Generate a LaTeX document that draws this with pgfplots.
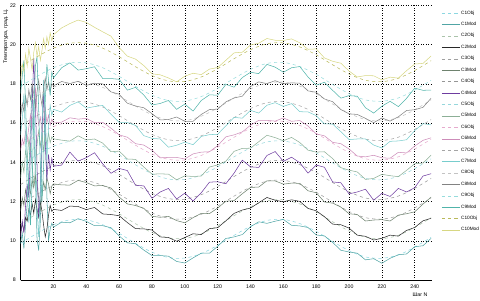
\documentclass[border=0pt]{standalone}
\usepackage{fontspec}
\setmainfont{Liberation Sans}
\usepackage{pgfplots}
\usepackage{pgfplotstable}
\pgfplotsset{compat=1.18}
\definecolor{c1o}{RGB}{140,215,225}
\definecolor{c1m}{RGB}{80,165,165}
\definecolor{c2o}{RGB}{170,195,170}
\definecolor{c2m}{RGB}{40,40,40}
\definecolor{c3o}{RGB}{160,160,160}
\definecolor{c3m}{RGB}{110,130,110}
\definecolor{c4o}{RGB}{150,150,150}
\definecolor{c4m}{RGB}{110,60,160}
\definecolor{c5o}{RGB}{150,215,220}
\definecolor{c5m}{RGB}{140,175,150}
\definecolor{c6o}{RGB}{230,170,205}
\definecolor{c6m}{RGB}{205,140,185}
\definecolor{c7o}{RGB}{165,165,165}
\definecolor{c7m}{RGB}{120,205,205}
\definecolor{c8o}{RGB}{195,195,195}
\definecolor{c8m}{RGB}{130,130,130}
\definecolor{c9o}{RGB}{150,220,220}
\definecolor{c9m}{RGB}{80,180,170}
\definecolor{c10o}{RGB}{185,185,90}
\definecolor{c10m}{RGB}{215,215,130}

\pgfplotstableread{
x o1 o2 o3 o4 o5 o6 o7 o8 o9 o10
0 9.87 10.87 11.87 12.87 13.87 14.87 15.87 16.87 17.87 18.87
10 10.38 11.38 12.38 13.38 14.38 15.38 16.38 17.38 18.38 19.38
20 10.82 11.82 12.82 13.82 14.82 15.82 16.82 17.82 18.82 19.82
30 11.07 12.07 13.07 14.07 15.07 16.07 17.07 18.07 19.07 20.07
40 11.07 12.07 13.07 14.07 15.07 16.07 17.07 18.07 19.07 20.07
50 10.82 11.82 12.82 13.82 14.82 15.82 16.82 17.82 18.82 19.82
60 10.38 11.38 12.38 13.38 14.38 15.38 16.38 17.38 18.38 19.38
70 9.87 10.87 11.87 12.87 13.87 14.87 15.87 16.87 17.87 18.87
80 9.42 10.42 11.42 12.42 13.42 14.42 15.42 16.42 17.42 18.42
90 9.15 10.15 11.15 12.15 13.15 14.15 15.15 16.15 17.15 18.15
100 9.12 10.12 11.12 12.12 13.12 14.12 15.12 16.12 17.12 18.12
110 9.35 10.35 11.35 12.35 13.35 14.35 15.35 16.35 17.35 18.35
120 9.77 10.77 11.77 12.77 13.77 14.77 15.77 16.77 17.77 18.77
130 10.28 11.28 12.28 13.28 14.28 15.28 16.28 17.28 18.28 19.28
140 10.74 11.74 12.74 13.74 14.74 15.74 16.74 17.74 18.74 19.74
150 11.04 12.04 13.04 14.04 15.04 16.04 17.04 18.04 19.04 20.04
160 11.09 12.09 13.09 14.09 15.09 16.09 17.09 18.09 19.09 20.09
170 10.88 11.88 12.88 13.88 14.88 15.88 16.88 17.88 18.88 19.88
180 10.48 11.48 12.48 13.48 14.48 15.48 16.48 17.48 18.48 19.48
190 9.97 10.97 11.97 12.97 13.97 14.97 15.97 16.97 17.97 18.97
200 9.50 10.50 11.50 12.50 13.50 14.50 15.50 16.50 17.50 18.50
210 9.18 10.18 11.18 12.18 13.18 14.18 15.18 16.18 17.18 18.18
220 9.11 10.11 11.11 12.11 13.11 14.11 15.11 16.11 17.11 18.11
230 9.28 10.28 11.28 12.28 13.28 14.28 15.28 16.28 17.28 18.28
240 9.68 10.68 11.68 12.68 13.68 14.68 15.68 16.68 17.68 18.68
250 10.18 11.18 12.18 13.18 14.18 15.18 16.18 17.18 18.18 19.18
}\objtab

\pgfplotstableread{
x m1 m2 m3 m4 m5 m6 m7 m8 m9 m10
0 9.9 10.4 11.5 10.2 13.2 14.6 15.4 16.3 17.5 18.2
1 10.4 10.9 12.2 11.0 14.0 15.2 16.2 17.0 18.4 19.0
2 9.6 10.5 11.8 10.4 13.5 14.9 17.5 16.6 19.2 18.6
3 10.8 11.2 12.6 11.8 14.6 15.6 15.1 17.4 17.0 19.5
4 11.9 11.0 12.1 12.9 14.1 15.1 12.6 16.9 14.2 18.9
5 13.5 11.6 12.9 12.2 15.2 15.8 10.9 17.7 12.5 19.8
6 15.8 11.3 12.4 14.6 14.7 16.4 12.8 17.2 10.8 19.3
7 17.9 11.9 13.1 16.8 13.9 15.7 15.6 18.0 12.9 18.7
8 16.0 11.4 12.7 19.3 12.8 16.9 17.2 17.5 16.2 19.6
9 13.2 12.1 13.3 17.0 13.6 17.8 14.4 16.8 18.9 20.1
10 10.1 11.6 12.8 13.8 14.9 16.6 11.6 17.6 19.4 19.4
11 9.5 11.2 12.2 11.2 15.6 15.9 10.2 18.2 16.7 19.9
12 11.0 12.0 11.6 12.5 14.8 16.3 12.4 17.4 13.9 19.2
13 14.6 11.5 12.3 15.5 15.4 15.6 16.0 16.9 12.0 19.7
14 18.2 10.8 13.0 17.6 14.6 16.2 17.9 17.8 13.8 20.3
15 16.5 10.2 12.6 15.0 15.3 16.8 16.6 18.3 17.1 19.8
16 12.3 10.6 13.2 13.1 14.9 16.0 14.1 17.7 19.0 20.4
17 10.0 11.3 12.9 14.4 15.5 16.4 15.8 18.1 18.2 20.0
18 10.6 11.8 12.4 13.6 15.0 15.9 16.9 17.6 17.4 20.6
19 10.9 11.5 12.8 14.2 15.3 16.2 16.4 18.0 18.6 20.2
20 10.7 11.6 12.9 13.8 15.2 16.0 16.7 17.9 18.3 20.5
25 10.95 11.55 12.85 13.86 15.13 16.05 16.56 18.12 18.82 20.85
30 10.92 11.77 12.84 14.52 15.08 16.27 16.90 18.01 19.07 21.07
35 11.13 11.75 13.08 14.06 15.35 16.20 17.08 18.13 18.70 21.25
40 10.99 11.59 12.97 14.24 15.14 16.24 16.76 17.92 18.77 21.13
45 10.77 11.70 12.80 14.49 15.19 16.02 16.84 18.03 18.87 20.88
50 10.77 11.37 12.82 13.92 14.98 16.04 16.90 18.00 18.27 20.65
55 10.67 11.34 12.69 13.44 14.54 15.74 16.45 17.59 18.27 20.43
60 10.25 11.28 12.23 13.69 14.57 15.40 16.04 17.47 18.23 19.85
65 9.90 10.93 11.88 13.58 14.17 15.28 16.03 17.01 17.68 19.41
70 9.85 10.62 11.80 12.83 14.15 14.95 15.88 16.87 17.82 19.26
75 9.53 10.61 11.66 12.80 13.76 14.88 15.36 16.78 17.43 18.93
80 9.25 10.55 11.25 12.17 13.40 14.62 15.22 16.48 16.92 18.51
85 9.25 10.20 11.20 12.49 13.41 14.23 15.19 16.16 17.00 18.46
90 9.22 10.17 11.25 12.67 13.40 14.25 14.77 16.18 17.15 18.30
95 8.95 9.98 11.03 12.13 13.11 14.25 14.87 16.31 16.70 18.10
100 8.87 10.17 10.92 12.43 13.31 14.17 15.03 16.09 16.97 18.39
105 9.13 10.36 11.18 12.03 13.28 14.43 14.90 16.09 16.61 18.54
110 9.37 10.32 11.40 12.45 13.30 14.52 15.32 16.44 17.15 18.47
115 9.37 10.62 11.39 12.99 13.76 14.54 15.41 16.69 17.44 18.75
120 9.72 10.67 11.67 13.01 13.87 14.85 15.43 16.71 17.42 18.83
125 10.12 11.02 12.02 12.91 14.06 15.30 15.86 17.08 17.97 19.20
130 10.20 11.40 12.05 13.45 14.56 15.40 16.29 17.28 17.83 19.58
135 10.32 11.57 12.40 14.11 14.71 15.55 16.25 17.37 18.32 19.61
140 10.72 11.67 12.72 13.77 14.72 15.89 16.65 17.86 18.59 19.98
145 10.97 11.94 12.74 13.74 15.05 16.14 16.51 18.10 18.52 20.07
150 10.89 12.21 13.06 14.35 15.38 16.14 16.91 18.01 18.99 20.31
155 11.00 12.07 13.05 14.55 15.26 16.10 17.04 18.16 18.85 20.22
160 11.09 11.99 12.89 14.05 15.10 16.26 16.85 18.00 18.59 20.21
165 10.79 12.09 12.94 14.26 15.27 16.09 16.99 18.05 18.82 20.29
170 10.76 12.01 12.93 13.98 15.01 16.13 16.58 18.03 18.88 20.09
175 10.68 11.65 12.55 13.45 14.62 15.85 16.57 17.64 18.35 19.76
180 10.30 11.53 12.45 13.86 14.52 15.45 16.38 17.57 17.93 19.78
185 10.25 11.23 11.98 13.75 14.54 15.35 15.96 17.23 18.08 19.32
190 9.92 10.85 11.92 13.00 14.19 15.02 15.95 17.09 17.67 19.15
195 9.52 10.82 11.72 12.96 13.73 14.95 15.56 16.69 17.27 19.05
200 9.43 10.65 11.38 12.39 13.60 14.68 15.16 16.47 17.40 18.65
205 9.37 10.29 11.34 12.49 13.51 14.32 15.19 16.44 17.37 18.35
210 9.03 10.23 11.01 12.63 13.13 14.28 15.19 16.24 16.78 18.42
215 9.09 10.04 11.06 12.07 13.18 14.36 14.88 16.02 16.51 18.41
220 8.86 10.13 11.08 12.42 13.39 14.23 14.73 16.26 16.86 18.20
225 9.11 10.29 11.01 12.26 13.32 14.21 15.07 16.10 17.11 18.34
230 9.29 10.24 11.31 12.67 13.27 14.51 15.09 16.32 16.84 18.29
235 9.33 10.53 11.38 12.49 13.59 14.48 15.15 16.64 17.26 18.67
240 9.70 10.68 11.48 12.71 13.93 14.83 15.62 16.68 17.78 19.01
245 9.75 11.02 11.87 13.30 13.96 15.12 15.97 16.80 17.67 19.04
250 10.13 11.15 12.23 13.42 14.37 15.25 15.91 17.27 17.68 19.42
}\modtab

\begin{document}
\begin{tikzpicture}
\begin{axis}[
  scale only axis, width=390bp, height=261bp,
  xmin=0, xmax=250, ymin=8, ymax=22,
  xtick={20,40,...,240}, ytick={8,10,...,22},
  grid=major,
  major grid style={dotted, black, line width=0.5pt},
  axis x line*=bottom, axis y line*=left,
  axis line style={black, line width=0.5pt},
  major tick length=0pt,
  tick label style={font=\fontsize{5}{6}\selectfont},
  /pgf/number format/assume math mode=true,
  yticklabel style={xshift=-1bp},
  xticklabel style={yshift=-1bp},
  xlabel={Шаг N},
  ylabel={Температура, град. Ц.},
  label style={font=\fontsize{5}{6}\selectfont},
  xlabel style={at={(axis description cs:1,0)}, anchor=north east, yshift=-9bp},
  ylabel style={at={(axis description cs:-0.036,1)}, anchor=east},
  every axis plot/.append style={line width=0.5pt},
  legend style={at={(1.025,0.985)}, anchor=north west, draw=none, fill=none,
    font=\fontsize{4.5}{5}\selectfont, row sep=4.1bp, inner sep=0pt,
    nodes={inner sep=1bp}},
  legend cell align=left,
  legend image code/.code={\draw[#1] (0bp,0bp) -- (17bp,0bp);},
]
\addplot[c1o, dashed, smooth] table[x=x, y=o1] {\objtab};
\addlegendentry{C1Obj}
\addplot[c1m] table[x=x, y=m1] {\modtab};
\addlegendentry{C1Mod}
\addplot[c2o, dashed, smooth] table[x=x, y=o2] {\objtab};
\addlegendentry{C2Obj}
\addplot[c2m] table[x=x, y=m2] {\modtab};
\addlegendentry{C2Mod}
\addplot[c3o, dashed, smooth] table[x=x, y=o3] {\objtab};
\addlegendentry{C3Obj}
\addplot[c3m] table[x=x, y=m3] {\modtab};
\addlegendentry{C3Mod}
\addplot[c4o, dashed, smooth] table[x=x, y=o4] {\objtab};
\addlegendentry{C4Obj}
\addplot[c4m] table[x=x, y=m4] {\modtab};
\addlegendentry{C4Mod}
\addplot[c5o, dashed, smooth] table[x=x, y=o5] {\objtab};
\addlegendentry{C5Obj}
\addplot[c5m] table[x=x, y=m5] {\modtab};
\addlegendentry{C5Mod}
\addplot[c6o, dashed, smooth] table[x=x, y=o6] {\objtab};
\addlegendentry{C6Obj}
\addplot[c6m] table[x=x, y=m6] {\modtab};
\addlegendentry{C6Mod}
\addplot[c7o, dashed, smooth] table[x=x, y=o7] {\objtab};
\addlegendentry{C7Obj}
\addplot[c7m] table[x=x, y=m7] {\modtab};
\addlegendentry{C7Mod}
\addplot[c8o, dashed, smooth] table[x=x, y=o8] {\objtab};
\addlegendentry{C8Obj}
\addplot[c8m] table[x=x, y=m8] {\modtab};
\addlegendentry{C8Mod}
\addplot[c9o, dashed, smooth] table[x=x, y=o9] {\objtab};
\addlegendentry{C9Obj}
\addplot[c9m] table[x=x, y=m9] {\modtab};
\addlegendentry{C9Mod}
\addplot[c10o, dashed, smooth] table[x=x, y=o10] {\objtab};
\addlegendentry{C10Obj}
\addplot[c10m] table[x=x, y=m10] {\modtab};
\addlegendentry{C10Mod}
\end{axis}
\end{tikzpicture}
\end{document}
